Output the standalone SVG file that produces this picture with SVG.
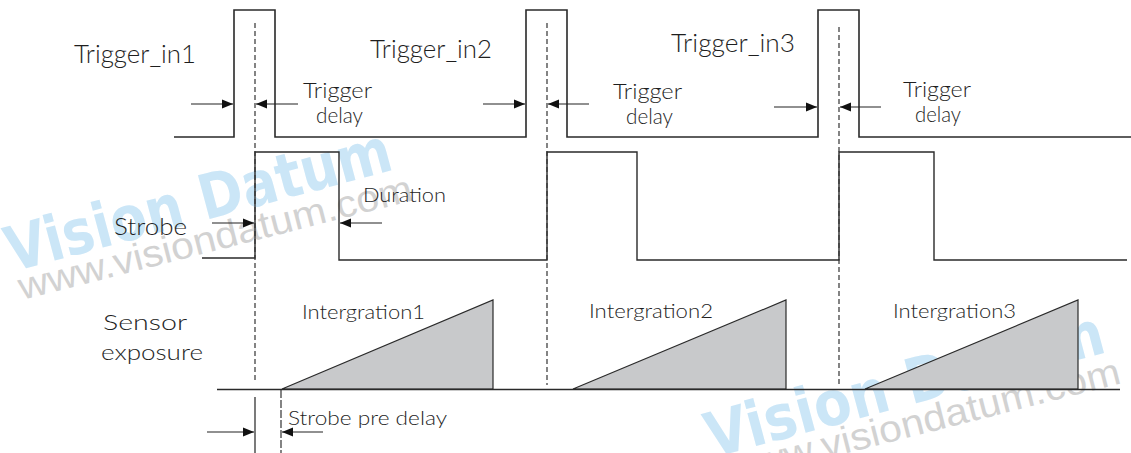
<svg xmlns="http://www.w3.org/2000/svg" width="1131" height="453" viewBox="0 0 1131 453">
<style>
.lbl{font-family:Lato,"Open Sans","Noto Sans","Liberation Sans",sans-serif;font-weight:300;fill:#1e1e1e}
.wave{fill:none;stroke:#2a2a2a;stroke-width:1.6;stroke-linejoin:miter}
.dash{fill:none;stroke:#333;stroke-width:1.2;stroke-dasharray:5 3}
.arr{fill:none;stroke:#222;stroke-width:1.2}
.tri{fill:#c8c9cb;stroke:#2a2a2a;stroke-width:1.2}
.wm1{font-family:"DejaVu Sans","Liberation Sans",sans-serif;font-weight:bold;fill:#cbe6f7}
.wm2{font-family:"Liberation Sans","DejaVu Sans",sans-serif;fill:#d2d2d2}
</style>
<defs>
<marker id="ah" markerUnits="userSpaceOnUse" markerWidth="12" markerHeight="10" refX="11" refY="5" orient="auto">
<path d="M0,0.5 L11,5 L0,9.5 Z" fill="#111"/>
</marker>
</defs>
<rect width="1131" height="453" fill="#fff"/>
<g id="watermarks">
<text class="wm1" x="12" y="272" font-size="62" textLength="397" lengthAdjust="spacingAndGlyphs" transform="rotate(-15 12 272)">Vision Datum</text>
<text class="wm2" x="22" y="300" font-size="38" textLength="405" lengthAdjust="spacingAndGlyphs" transform="rotate(-14.3 22 300)">www.visiondatum.com</text>
<text class="wm1" x="712" y="458" font-size="62" textLength="410" lengthAdjust="spacingAndGlyphs" transform="rotate(-15 712 458)">Vision Datum</text>
<text class="wm2" x="730" y="483" font-size="38" textLength="405" lengthAdjust="spacingAndGlyphs" transform="rotate(-14.3 730 483)">www.visiondatum.com</text>
</g>
<g id="trigger_in">
<path class="wave" d="M174,137 H234 V10 H275 V137 H526 V10 H567 V137 H818 V10 H859 V137 H1131"/>
<text class="lbl" x="74" y="63" font-size="26" textLength="122" lengthAdjust="spacingAndGlyphs">Trigger_in1</text>
<text class="lbl" x="370" y="58" font-size="26" textLength="122" lengthAdjust="spacingAndGlyphs">Trigger_in2</text>
<text class="lbl" x="671" y="52" font-size="26" textLength="124" lengthAdjust="spacingAndGlyphs">Trigger_in3</text>
</g>
<g id="strobe">
<path class="wave" style="stroke-width:1.4" d="M202,258 H255 V152 H339 V260 H547 V152 H637 V260 H839 V152 H934 V260 H1127"/>
<text class="lbl" x="114" y="235" font-size="23" textLength="73" lengthAdjust="spacingAndGlyphs">Strobe</text>
<text class="lbl" x="363" y="202" font-size="20" textLength="83" lengthAdjust="spacingAndGlyphs">Duration</text>
</g>
<g id="sensor_exposure">
<path class="tri" d="M282,389 L493,300 V389 Z"/>
<path class="tri" d="M573,389 L786,300 V389 Z"/>
<path class="tri" d="M865,389 L1078,300 V389 Z"/>
<path class="wave" style="stroke-width:1.4" d="M217,389.5 H1120"/>
<text class="lbl" x="103" y="330" font-size="22" textLength="84" lengthAdjust="spacingAndGlyphs">Sensor</text>
<text class="lbl" x="101" y="360" font-size="22" textLength="102" lengthAdjust="spacingAndGlyphs">exposure</text>
<text class="lbl" x="302" y="319" font-size="19" textLength="123" lengthAdjust="spacingAndGlyphs">Intergration1</text>
<text class="lbl" x="589" y="318" font-size="19" textLength="124" lengthAdjust="spacingAndGlyphs">Intergration2</text>
<text class="lbl" x="893" y="318" font-size="19" textLength="123" lengthAdjust="spacingAndGlyphs">Intergration3</text>
</g>
<g id="trigger_delay_labels">
<text class="lbl" x="303" y="98" font-size="22" textLength="69" lengthAdjust="spacingAndGlyphs">Trigger</text>
<text class="lbl" x="316" y="123" font-size="22" textLength="47" lengthAdjust="spacingAndGlyphs">delay</text>
<text class="lbl" x="613" y="99" font-size="22" textLength="69" lengthAdjust="spacingAndGlyphs">Trigger</text>
<text class="lbl" x="626" y="124" font-size="22" textLength="47" lengthAdjust="spacingAndGlyphs">delay</text>
<text class="lbl" x="903" y="97" font-size="22" textLength="68" lengthAdjust="spacingAndGlyphs">Trigger</text>
<text class="lbl" x="915" y="122" font-size="22" textLength="46" lengthAdjust="spacingAndGlyphs">delay</text>
<text class="lbl" x="288" y="425" font-size="19" textLength="159" lengthAdjust="spacingAndGlyphs">Strobe pre delay</text>
</g>
<g id="connectors">
<path class="dash" d="M255,23 V380"/>
<path class="dash" d="M547,23 V385"/>
<path class="dash" d="M839,27 V385"/>
<path class="arr" d="M255,397 V453"/>
<path class="dash" style="stroke-dasharray:8 2" d="M281,390 V453"/>
<line class="arr" x1="191" y1="104" x2="233" y2="104" marker-end="url(#ah)"/>
<line class="arr" x1="298" y1="104" x2="256" y2="104" marker-end="url(#ah)"/>
<line class="arr" x1="483" y1="104" x2="525" y2="104" marker-end="url(#ah)"/>
<line class="arr" x1="589" y1="104" x2="548" y2="104" marker-end="url(#ah)"/>
<line class="arr" x1="774" y1="107" x2="817" y2="107" marker-end="url(#ah)"/>
<line class="arr" x1="881" y1="107" x2="840" y2="107" marker-end="url(#ah)"/>
<line class="arr" x1="212" y1="223" x2="254" y2="223" marker-end="url(#ah)"/>
<line class="arr" x1="382" y1="223" x2="340" y2="223" marker-end="url(#ah)"/>
<line class="arr" x1="207" y1="432" x2="254" y2="432" marker-end="url(#ah)"/>
<line class="arr" x1="323" y1="432" x2="282" y2="432" marker-end="url(#ah)"/>
</g>
</svg>
